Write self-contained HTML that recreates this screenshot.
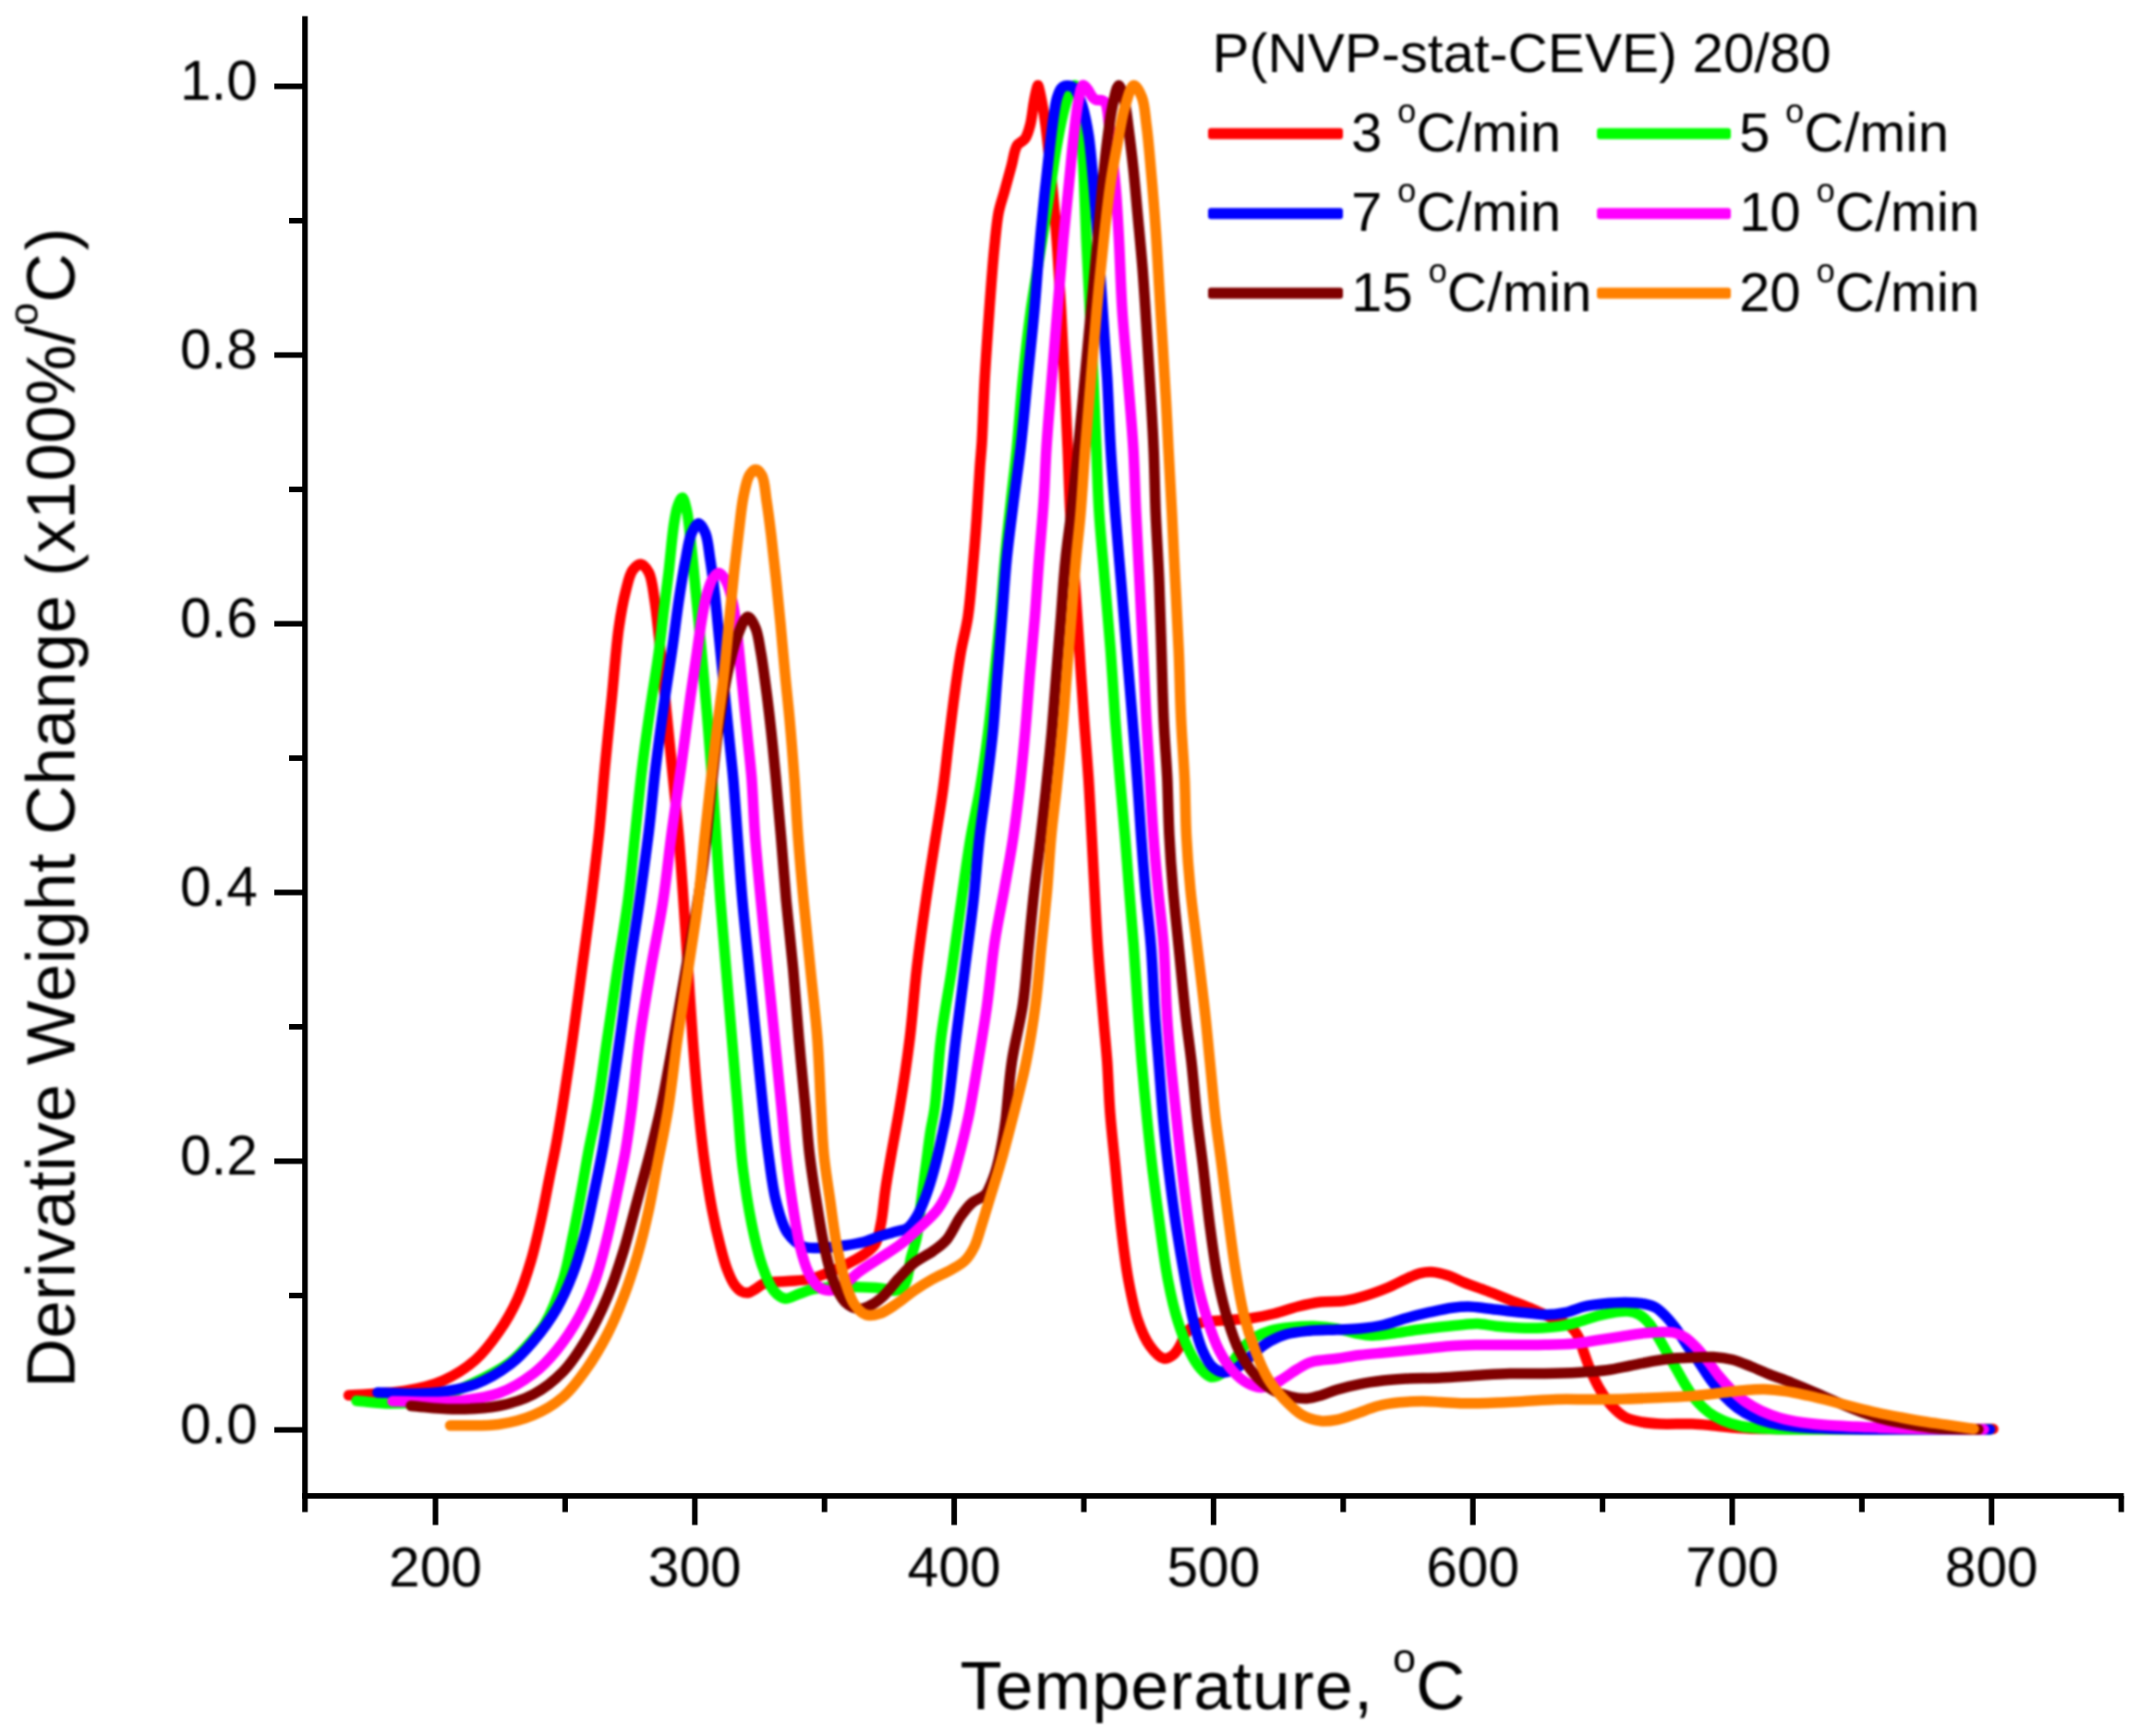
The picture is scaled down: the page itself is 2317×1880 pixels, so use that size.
<!DOCTYPE html>
<html lang="en"><head><meta charset="utf-8"><title>TGA derivative curves</title>
<style>
html,body{margin:0;padding:0;background:#fff;}
body{width:2317px;height:1880px;overflow:hidden;}
svg{display:block;}
text{font-family:"Liberation Sans",sans-serif;fill:#000;}
.tk{font-size:60.5px;}
.ti{font-size:74px;}
.lg{font-size:60px;}
.lgl{fill:none;stroke-width:12;stroke-linecap:butt;}
.ax{stroke:#000;stroke-width:6;fill:none;stroke-linecap:butt;}
.cv{fill:none;stroke-width:11.5;stroke-linecap:round;stroke-linejoin:round;}
</style></head>
<body>
<svg width="2317" height="1880" viewBox="0 0 2317 1880">
<defs><filter id="soft" x="0" y="0" width="2317" height="1880" filterUnits="userSpaceOnUse" color-interpolation-filters="sRGB"><feGaussianBlur stdDeviation="1.1"/></filter><filter id="soft2" x="0" y="0" width="2317" height="1880" filterUnits="userSpaceOnUse" color-interpolation-filters="sRGB"><feGaussianBlur stdDeviation="0.45"/></filter></defs>
<rect x="0" y="0" width="2317" height="1880" fill="#fff"/>
<g id="curves" filter="url(#soft)">
<path class="cv" stroke="#ff0000" d="M377.5 1511.0C398.3 1509.3 421.6 1509.2 440.0 1506.0C455.0 1503.4 467.5 1500.6 480.0 1495.0C492.5 1489.4 504.9 1481.4 515.0 1472.5C524.8 1463.8 532.5 1453.2 540.0 1442.5C547.6 1431.6 554.3 1420.0 560.0 1407.5C566.1 1394.3 570.7 1379.5 575.0 1365.0C579.4 1350.3 582.7 1335.0 586.0 1320.0C589.3 1305.0 592.1 1289.3 595.0 1275.0C597.6 1261.9 600.2 1250.0 602.5 1237.5C604.8 1225.0 606.4 1214.7 608.8 1200.0C612.0 1179.3 616.5 1150.0 620.0 1125.0C623.5 1100.0 626.7 1075.0 630.0 1050.0C633.3 1025.0 636.9 1000.0 640.0 975.0C643.1 950.0 646.2 924.6 648.8 900.0C651.2 876.3 652.8 853.7 655.0 830.0C657.3 805.4 660.0 780.0 662.5 755.0C665.0 730.0 667.0 701.0 670.0 680.0C672.2 664.5 674.6 651.3 677.5 640.0C679.7 631.3 681.4 622.4 685.0 617.5C687.4 614.2 690.9 610.8 693.8 611.0C696.8 611.2 700.2 615.7 702.5 620.0C706.1 626.8 707.0 639.1 708.8 650.0C710.8 662.9 712.1 677.8 713.8 692.5C715.5 708.5 717.0 724.9 718.8 742.5C720.7 762.2 723.0 785.3 725.0 805.0C726.8 822.6 728.3 838.2 730.0 855.0C731.7 872.2 733.4 888.5 735.0 907.0C736.8 928.1 738.4 951.8 740.0 975.0C741.7 999.4 743.3 1025.0 745.0 1050.0C746.7 1075.0 748.1 1100.0 750.0 1125.0C751.9 1150.0 754.0 1176.8 756.2 1200.0C758.2 1220.0 760.0 1237.5 762.5 1256.0C764.9 1274.2 767.8 1293.4 771.0 1310.0C773.7 1324.4 777.0 1338.4 780.0 1350.0C782.3 1359.1 784.3 1366.8 787.0 1374.0C789.4 1380.3 792.0 1386.7 795.0 1391.0C797.3 1394.3 799.8 1397.0 802.5 1398.5C804.8 1399.7 807.6 1400.3 810.0 1400.0C812.6 1399.7 814.9 1397.7 817.5 1396.2C820.6 1394.5 823.2 1391.5 827.5 1390.0C833.8 1387.9 844.2 1388.3 852.5 1387.5C860.8 1386.7 870.0 1386.7 877.5 1385.0C883.9 1383.5 889.0 1381.1 895.0 1378.8C901.5 1376.2 908.4 1373.3 915.0 1370.0C921.8 1366.6 929.3 1362.8 935.0 1358.8C939.9 1355.2 944.4 1352.5 947.5 1347.5C951.1 1341.7 952.0 1333.5 953.8 1325.0C956.0 1314.2 956.9 1300.0 958.8 1287.5C960.6 1275.0 962.7 1263.4 965.0 1250.0C967.7 1234.5 971.0 1218.4 974.0 1200.0C977.7 1177.6 981.9 1150.0 985.0 1125.0C988.1 1100.0 989.6 1075.0 992.5 1050.0C995.4 1025.0 999.0 999.4 1002.5 975.0C1005.8 951.8 1009.7 928.1 1013.0 907.0C1015.9 888.5 1018.6 872.6 1021.0 855.0C1023.5 836.9 1025.3 817.9 1027.5 800.0C1029.6 782.9 1031.5 766.2 1033.8 750.0C1035.9 734.6 1038.0 719.2 1040.5 705.0C1042.8 692.0 1046.0 681.3 1048.0 668.0C1050.3 652.6 1051.5 635.2 1053.0 618.0C1054.6 599.6 1056.2 579.9 1057.5 561.0C1058.8 542.3 1059.9 519.9 1061.0 505.0C1061.7 495.0 1062.3 490.4 1063.0 480.0C1064.1 462.6 1064.9 433.7 1066.2 410.0C1067.6 385.4 1069.5 358.9 1071.2 335.0C1072.8 313.2 1074.4 291.3 1076.2 272.5C1077.8 257.0 1078.9 241.9 1081.2 230.0C1083.0 221.2 1085.3 215.4 1087.5 207.5C1089.9 198.8 1092.6 188.7 1095.0 180.0C1097.2 172.1 1098.0 162.7 1101.2 157.5C1103.6 153.9 1107.7 153.3 1110.0 150.0C1112.7 146.1 1114.0 140.7 1115.5 135.0C1117.4 127.8 1118.2 116.8 1119.5 110.0C1120.4 105.3 1121.2 101.2 1122.0 98.0C1122.6 95.8 1123.2 92.5 1123.8 92.5C1124.3 92.5 1124.9 95.8 1125.5 98.0C1126.3 101.2 1127.1 105.3 1128.0 110.0C1129.3 116.8 1130.7 125.8 1132.0 135.0C1133.5 146.2 1134.8 159.1 1136.2 172.5C1137.9 188.0 1139.8 205.8 1141.2 222.5C1142.7 239.2 1143.8 254.9 1145.0 272.5C1146.3 292.2 1147.6 313.2 1148.8 335.0C1150.1 358.9 1151.3 385.0 1152.5 410.0C1153.7 435.0 1154.9 460.4 1156.0 485.0C1157.0 508.7 1157.5 531.3 1158.8 555.0C1160.1 579.6 1162.1 605.0 1163.8 630.0C1165.4 655.0 1167.1 680.0 1168.8 705.0C1170.4 730.0 1172.0 756.1 1173.8 780.0C1175.3 801.8 1177.1 821.7 1178.5 842.5C1179.9 863.3 1180.9 884.6 1182.0 905.0C1183.1 924.6 1183.9 942.9 1185.0 962.5C1186.1 982.9 1187.0 1003.2 1188.5 1025.0C1190.1 1048.9 1192.6 1077.5 1194.5 1100.0C1196.0 1118.4 1197.5 1132.9 1198.8 1150.0C1200.0 1168.1 1200.5 1187.3 1202.0 1206.0C1203.5 1224.8 1205.6 1243.0 1207.5 1262.5C1209.5 1283.5 1211.3 1306.7 1213.8 1328.0C1216.1 1348.3 1218.6 1369.4 1222.0 1387.5C1224.9 1402.9 1227.7 1417.6 1232.0 1430.0C1235.6 1440.4 1239.7 1450.3 1245.0 1457.5C1249.3 1463.4 1255.2 1470.3 1260.0 1471.2C1263.5 1471.9 1267.2 1469.6 1270.0 1467.5C1273.1 1465.2 1275.2 1461.3 1277.5 1457.5C1280.2 1453.1 1281.4 1446.6 1285.0 1442.5C1288.8 1438.2 1294.2 1434.6 1300.0 1432.5C1306.5 1430.1 1314.3 1430.8 1322.5 1430.0C1332.3 1429.1 1344.9 1428.9 1355.0 1427.5C1363.9 1426.3 1371.7 1424.6 1380.0 1422.5C1388.4 1420.4 1396.6 1417.1 1405.0 1415.0C1413.3 1412.9 1421.6 1411.0 1430.0 1410.0C1438.3 1409.0 1446.9 1409.9 1455.0 1408.8C1462.7 1407.7 1469.9 1405.8 1477.5 1403.5C1485.7 1401.1 1494.7 1397.7 1502.5 1394.5C1509.6 1391.5 1516.3 1387.8 1522.5 1385.0C1527.8 1382.6 1532.6 1380.0 1537.5 1378.8C1541.8 1377.7 1545.5 1377.2 1550.0 1377.5C1555.4 1377.8 1561.8 1379.4 1567.5 1381.2C1573.4 1383.1 1578.6 1386.2 1585.0 1388.8C1592.6 1391.8 1601.7 1394.8 1610.0 1398.0C1618.4 1401.2 1626.7 1404.7 1635.0 1408.0C1643.3 1411.3 1652.2 1414.7 1660.0 1418.0C1667.1 1421.0 1673.3 1424.0 1680.0 1427.0C1686.7 1430.0 1695.0 1432.3 1700.0 1436.2C1704.0 1439.4 1706.3 1443.1 1708.8 1447.5C1711.5 1452.5 1712.8 1459.0 1715.0 1465.0C1717.4 1471.5 1719.6 1478.4 1722.5 1485.0C1725.4 1491.7 1728.7 1498.7 1732.5 1505.0C1736.2 1511.2 1740.3 1517.4 1745.0 1522.5C1749.5 1527.3 1754.5 1532.1 1760.0 1535.0C1765.3 1537.8 1771.4 1538.8 1777.5 1540.0C1783.9 1541.2 1789.9 1541.6 1797.5 1542.0C1807.4 1542.5 1821.4 1541.6 1832.0 1542.0C1841.0 1542.4 1848.7 1543.3 1857.0 1544.0C1865.3 1544.8 1873.4 1545.9 1882.0 1546.5C1891.1 1547.1 1896.0 1547.3 1910.0 1547.5C1951.6 1548.2 2075.3 1547.5 2158.0 1547.5"/>
<path class="cv" stroke="#00ff00" d="M386.0 1517.0C398.2 1518.0 409.9 1520.0 422.5 1520.0C436.1 1520.0 450.5 1519.9 465.0 1516.5C481.3 1512.7 499.8 1503.9 515.0 1496.5C528.6 1489.9 541.7 1483.3 552.5 1475.0C562.3 1467.4 570.8 1457.2 577.5 1449.5C582.6 1443.7 585.8 1440.6 590.0 1433.5C596.7 1422.0 604.9 1401.1 610.0 1385.0C614.7 1369.9 616.8 1355.6 620.0 1340.0C623.5 1323.2 627.0 1304.1 630.0 1287.5C632.7 1272.6 634.8 1259.4 637.5 1245.0C640.3 1230.2 643.6 1216.9 646.5 1200.0C650.3 1178.2 653.8 1150.0 657.5 1125.0C661.2 1100.0 664.8 1075.0 668.5 1050.0C672.3 1025.0 676.7 1000.0 680.0 975.0C683.2 950.0 685.4 924.6 688.0 900.0C690.5 876.3 692.7 852.7 695.5 830.0C698.1 808.6 701.0 788.2 704.0 767.5C706.9 747.2 710.8 725.4 713.2 707.0C715.3 691.7 716.8 677.2 718.2 665.0C719.4 655.6 720.4 648.3 721.4 640.0C722.4 631.7 723.6 623.3 724.5 615.0C725.4 606.7 726.1 598.3 727.0 590.0C727.9 581.7 728.8 572.5 730.1 565.0C731.2 558.8 732.0 552.7 733.8 548.0C735.1 544.4 737.2 538.9 738.8 539.0C740.5 539.1 742.1 546.7 743.5 552.5C745.8 562.2 746.9 578.4 748.5 592.5C750.3 608.2 751.8 624.9 753.5 642.5C755.4 662.2 757.6 684.2 759.5 705.0C761.4 725.8 763.2 746.7 765.0 767.5C766.7 788.3 768.4 808.6 770.0 830.0C771.7 852.7 773.4 876.3 775.0 900.0C776.7 924.6 778.1 950.0 780.0 975.0C781.9 1000.0 784.2 1025.0 786.2 1050.0C788.3 1075.0 790.4 1100.0 792.5 1125.0C794.6 1150.0 796.8 1176.1 798.8 1200.0C800.6 1221.8 801.5 1241.7 804.0 1262.5C806.5 1283.4 809.9 1306.0 813.8 1325.0C817.1 1341.3 820.5 1357.0 825.0 1370.0C828.7 1380.5 832.3 1391.3 837.5 1397.5C841.2 1401.9 845.5 1405.6 850.0 1406.2C854.6 1406.9 860.0 1402.9 865.0 1401.2C870.0 1399.6 874.4 1397.5 880.0 1396.2C886.7 1394.8 894.8 1394.2 902.5 1393.8C910.6 1393.3 919.2 1393.5 927.5 1393.8C935.8 1394.0 944.9 1394.3 952.5 1395.0C958.9 1395.6 965.2 1398.7 970.0 1397.5C974.1 1396.5 977.4 1393.9 980.0 1390.0C983.8 1384.1 984.1 1371.2 986.2 1362.5C988.2 1354.6 990.8 1348.6 992.5 1340.0C994.8 1328.6 995.8 1313.1 997.5 1300.0C999.1 1287.3 1000.8 1275.0 1002.5 1262.5C1004.2 1250.0 1005.7 1236.2 1007.5 1225.0C1008.9 1215.8 1010.6 1210.6 1012.0 1200.0C1014.5 1181.7 1015.7 1149.9 1018.8 1125.0C1021.8 1099.9 1026.8 1075.0 1030.5 1050.0C1034.2 1025.0 1037.5 999.4 1041.0 975.0C1044.3 951.8 1047.4 928.1 1051.0 907.0C1054.1 888.5 1057.9 873.2 1061.0 855.0C1064.3 835.2 1067.4 813.4 1070.0 792.5C1072.6 771.7 1074.6 750.8 1076.8 730.0C1078.9 709.2 1081.1 688.3 1083.0 667.5C1084.9 646.7 1086.1 625.8 1088.0 605.0C1089.9 584.2 1092.3 562.9 1094.5 542.5C1096.6 522.9 1099.0 505.5 1101.0 485.0C1103.3 461.7 1105.0 435.0 1107.5 410.0C1110.0 385.0 1113.0 358.8 1116.2 335.0C1119.3 313.2 1122.9 293.3 1126.2 272.5C1129.6 251.7 1133.2 229.7 1136.2 210.0C1139.0 192.4 1141.0 175.4 1143.8 160.0C1146.1 146.6 1148.6 133.0 1151.2 122.5C1153.2 114.7 1155.0 107.9 1157.5 102.5C1159.4 98.5 1162.0 92.3 1163.8 92.5C1165.9 92.8 1167.5 103.0 1168.8 110.0C1170.5 120.1 1170.5 134.1 1171.2 147.5C1172.2 163.0 1173.0 179.9 1173.8 197.5C1174.6 217.2 1175.3 238.2 1176.2 260.0C1177.3 283.9 1178.8 310.0 1180.0 335.0C1181.2 360.0 1182.6 385.0 1183.8 410.0C1184.9 435.0 1185.9 460.4 1187.0 485.0C1188.0 508.7 1188.5 531.3 1190.0 555.0C1191.6 579.6 1194.2 605.0 1196.2 630.0C1198.3 655.0 1200.6 680.0 1202.5 705.0C1204.4 730.0 1205.8 756.1 1207.5 780.0C1209.1 801.8 1210.8 821.7 1212.5 842.5C1214.3 863.3 1216.3 884.6 1218.0 905.0C1219.6 924.6 1221.0 942.9 1222.5 962.5C1224.1 982.9 1225.9 1003.2 1227.5 1025.0C1229.2 1048.9 1230.9 1077.5 1232.5 1100.0C1233.8 1118.4 1234.8 1132.4 1236.2 1150.0C1237.9 1169.7 1240.0 1192.8 1242.0 1212.5C1243.8 1230.1 1245.3 1244.7 1247.4 1262.5C1249.8 1282.9 1252.9 1306.7 1255.9 1328.0C1258.7 1348.3 1261.3 1369.4 1264.8 1387.5C1267.8 1402.9 1270.9 1416.9 1275.0 1430.0C1278.6 1441.7 1282.8 1453.2 1287.5 1462.5C1291.3 1470.2 1295.5 1477.5 1300.0 1482.5C1303.5 1486.4 1307.3 1490.6 1311.2 1491.2C1314.8 1491.9 1319.1 1489.6 1322.5 1487.5C1326.2 1485.2 1329.5 1480.9 1332.5 1477.5C1335.3 1474.3 1337.3 1471.0 1340.0 1467.5C1343.1 1463.5 1346.4 1458.5 1350.0 1455.0C1353.2 1451.9 1356.2 1449.7 1360.0 1447.5C1364.4 1445.0 1369.4 1442.9 1375.0 1441.2C1381.6 1439.3 1389.8 1438.3 1397.5 1437.5C1405.6 1436.6 1414.2 1436.0 1422.5 1436.2C1430.8 1436.5 1439.7 1437.4 1447.5 1438.8C1454.6 1440.0 1461.0 1442.5 1467.5 1443.8C1473.5 1444.9 1478.6 1446.1 1485.0 1446.2C1492.6 1446.4 1501.7 1444.8 1510.0 1443.8C1518.3 1442.7 1526.7 1441.1 1535.0 1440.0C1543.3 1438.9 1551.7 1437.9 1560.0 1437.0C1568.3 1436.1 1577.7 1435.1 1585.0 1434.5C1590.6 1434.0 1594.7 1433.3 1600.0 1433.5C1606.2 1433.7 1612.9 1435.5 1620.0 1436.2C1627.9 1437.1 1636.7 1437.7 1645.0 1438.0C1653.3 1438.3 1662.1 1438.3 1670.0 1438.0C1677.0 1437.7 1683.4 1437.4 1690.0 1436.2C1696.7 1435.1 1703.4 1433.1 1710.0 1431.2C1716.7 1429.4 1723.5 1426.7 1730.0 1425.0C1736.0 1423.4 1741.9 1422.1 1747.5 1421.2C1752.7 1420.5 1757.8 1419.5 1762.5 1420.0C1766.9 1420.5 1771.3 1421.7 1775.0 1423.8C1778.8 1425.8 1781.9 1428.9 1785.0 1432.5C1788.6 1436.6 1791.8 1442.2 1795.0 1447.5C1798.4 1453.1 1801.7 1459.2 1805.0 1465.0C1808.3 1470.8 1811.7 1476.7 1815.0 1482.5C1818.3 1488.3 1821.5 1494.4 1825.0 1500.0C1828.5 1505.5 1831.8 1511.1 1836.0 1516.0C1840.2 1520.9 1844.9 1525.7 1850.0 1529.5C1854.9 1533.2 1860.3 1536.0 1866.0 1538.5C1871.9 1541.1 1878.2 1543.1 1885.0 1544.5C1892.7 1546.1 1901.3 1546.4 1910.0 1547.0C1919.5 1547.6 1925.4 1547.8 1940.0 1548.0C1978.9 1548.6 2083.0 1548.0 2154.5 1548.0"/>
<path class="cv" stroke="#0000ff" d="M408.8 1508.0C427.5 1508.2 446.9 1510.4 465.0 1508.8C482.2 1507.2 499.9 1504.4 515.0 1498.8C528.9 1493.6 541.7 1485.7 552.5 1477.5C562.3 1470.1 569.5 1461.9 577.5 1452.5C586.3 1442.1 595.4 1429.7 602.5 1417.5C609.5 1405.5 615.0 1392.9 620.0 1380.0C625.0 1367.0 628.8 1353.8 632.5 1340.0C636.4 1325.5 639.2 1310.4 642.5 1295.0C645.9 1278.8 649.5 1261.3 652.5 1245.0C655.3 1229.6 657.3 1216.9 660.0 1200.0C663.5 1178.2 667.7 1150.0 671.2 1125.0C674.8 1100.0 677.7 1075.0 681.2 1050.0C684.8 1025.0 689.0 1000.0 692.5 975.0C696.0 950.0 699.5 924.6 702.5 900.0C705.4 876.3 707.1 853.7 710.0 830.0C713.0 805.4 716.8 777.5 720.0 755.0C722.6 736.6 725.1 722.1 727.5 705.0C730.1 687.1 732.4 667.4 735.0 650.0C737.4 634.2 739.9 618.1 742.5 605.0C744.5 594.7 745.7 584.3 748.8 577.5C750.8 572.8 753.8 566.8 756.2 566.8C758.8 566.8 761.8 572.8 763.8 577.5C766.6 584.3 767.2 595.1 768.8 605.0C770.6 616.5 772.2 629.1 773.8 642.5C775.6 658.0 777.1 675.8 778.8 692.5C780.4 709.2 782.1 725.8 783.8 742.5C785.4 759.2 787.1 775.8 788.8 792.5C790.4 809.2 792.2 824.9 793.8 842.5C795.5 862.2 796.9 883.6 798.5 905.0C800.2 927.7 801.7 951.3 803.8 975.0C805.9 999.6 808.8 1025.0 811.2 1050.0C813.8 1075.0 816.2 1100.0 818.8 1125.0C821.2 1150.0 823.8 1177.5 826.2 1200.0C828.2 1218.4 829.7 1233.4 832.0 1250.0C834.3 1266.7 836.2 1285.0 840.0 1300.0C843.3 1312.9 846.5 1326.3 852.5 1335.0C857.2 1341.8 863.5 1347.4 870.0 1350.0C876.1 1352.5 883.0 1351.4 890.0 1351.2C897.9 1351.1 907.2 1349.9 915.0 1348.8C922.1 1347.7 928.6 1346.7 935.0 1345.0C941.1 1343.4 946.6 1340.6 952.5 1338.8C958.3 1336.9 964.7 1335.3 970.0 1333.8C974.5 1332.4 978.9 1332.4 982.5 1330.0C986.5 1327.3 989.5 1322.5 992.5 1317.5C996.3 1311.3 999.4 1303.3 1002.5 1295.0C1006.1 1285.3 1009.6 1273.4 1012.5 1262.5C1015.4 1251.7 1017.7 1240.6 1020.0 1230.0C1022.2 1219.8 1024.0 1212.3 1026.0 1200.0C1029.1 1180.7 1031.9 1150.0 1035.0 1125.0C1038.1 1100.0 1041.3 1075.0 1044.5 1050.0C1047.7 1025.0 1051.3 999.4 1054.0 975.0C1056.6 951.8 1058.1 928.1 1060.5 907.0C1062.6 888.5 1065.2 873.1 1067.5 855.0C1070.0 835.1 1072.9 813.4 1075.0 792.5C1077.1 771.7 1078.3 750.8 1080.0 730.0C1081.7 709.2 1083.3 688.3 1085.0 667.5C1086.7 646.7 1087.9 625.8 1090.0 605.0C1092.1 584.1 1094.9 562.9 1097.5 542.5C1100.0 522.9 1102.6 505.5 1105.0 485.0C1107.7 461.7 1110.0 435.0 1112.5 410.0C1115.0 385.0 1117.9 358.9 1120.0 335.0C1122.0 313.2 1123.2 293.3 1125.0 272.5C1126.8 251.7 1129.0 229.7 1131.0 210.0C1132.8 192.4 1134.7 175.2 1136.5 160.0C1138.0 147.3 1139.5 134.9 1141.0 125.0C1142.1 117.7 1142.9 111.3 1144.5 106.0C1145.7 102.1 1147.0 98.2 1148.8 96.0C1150.0 94.5 1151.4 93.5 1153.0 93.0C1154.5 92.5 1156.4 92.7 1158.0 93.0C1159.6 93.3 1161.2 93.8 1162.5 95.0C1164.3 96.5 1165.6 99.2 1167.0 102.0C1168.8 105.6 1170.4 109.6 1172.0 115.0C1174.4 123.3 1176.9 135.5 1178.8 147.5C1181.0 162.3 1182.2 179.9 1183.8 197.5C1185.5 217.2 1187.2 238.2 1188.8 260.0C1190.5 283.9 1192.1 310.0 1193.8 335.0C1195.4 360.0 1197.3 385.0 1198.8 410.0C1200.2 435.0 1201.0 460.4 1202.5 485.0C1203.9 508.7 1205.7 531.3 1207.5 555.0C1209.4 579.6 1211.7 605.0 1213.8 630.0C1215.8 655.0 1217.9 680.0 1220.0 705.0C1222.1 730.0 1224.3 756.1 1226.2 780.0C1228.0 801.8 1229.7 821.7 1231.2 842.5C1232.8 863.3 1234.0 884.6 1235.5 905.0C1236.9 924.6 1238.3 942.9 1240.0 962.5C1241.8 982.9 1244.5 1003.2 1246.2 1025.0C1248.1 1048.8 1249.0 1077.5 1250.5 1100.0C1251.8 1118.4 1253.1 1132.4 1254.5 1150.0C1256.1 1169.7 1257.7 1192.8 1259.5 1212.5C1261.1 1230.1 1262.7 1244.7 1264.8 1262.5C1267.2 1282.9 1270.3 1306.7 1273.5 1328.0C1276.6 1348.3 1280.2 1369.4 1283.5 1387.5C1286.3 1402.9 1288.7 1416.9 1292.0 1430.0C1294.9 1441.6 1298.0 1453.5 1302.0 1462.5C1305.1 1469.5 1308.2 1476.0 1312.5 1480.0C1316.1 1483.3 1320.8 1485.9 1325.0 1486.2C1329.1 1486.6 1333.5 1484.6 1337.5 1482.5C1341.9 1480.2 1345.9 1476.0 1350.0 1472.5C1354.2 1468.9 1358.2 1464.6 1362.5 1461.2C1366.6 1458.0 1370.3 1455.1 1375.0 1452.5C1380.2 1449.6 1386.0 1446.8 1392.5 1445.0C1400.0 1442.9 1408.8 1442.1 1417.5 1441.2C1427.0 1440.3 1438.0 1440.4 1447.5 1440.0C1456.2 1439.6 1464.2 1439.6 1472.5 1438.8C1480.9 1437.9 1489.2 1436.9 1497.5 1435.0C1505.9 1433.1 1514.1 1429.8 1522.5 1427.5C1530.8 1425.2 1539.1 1423.1 1547.5 1421.2C1555.8 1419.4 1564.9 1417.3 1572.5 1416.2C1578.8 1415.4 1584.0 1414.9 1590.0 1415.0C1596.4 1415.1 1603.0 1416.2 1610.0 1417.0C1617.9 1417.9 1626.7 1419.1 1635.0 1420.0C1643.3 1420.9 1653.1 1421.8 1660.0 1422.5C1664.9 1423.0 1667.7 1423.8 1672.5 1423.8C1678.9 1423.8 1687.8 1423.0 1695.0 1421.5C1701.9 1420.0 1708.3 1416.6 1715.0 1415.0C1721.6 1413.4 1727.9 1412.7 1735.0 1412.0C1742.9 1411.2 1752.1 1410.4 1760.0 1410.5C1767.0 1410.6 1774.2 1410.9 1780.0 1412.0C1784.7 1412.9 1788.7 1413.9 1792.5 1416.0C1796.4 1418.2 1799.6 1421.6 1803.0 1425.0C1806.8 1428.8 1810.3 1433.1 1814.0 1438.0C1818.3 1443.7 1822.6 1451.1 1827.0 1457.5C1831.3 1463.8 1835.8 1469.8 1840.0 1476.0C1844.1 1482.0 1847.7 1488.2 1852.0 1494.0C1856.3 1499.9 1861.0 1505.8 1866.0 1511.0C1870.7 1516.0 1875.7 1520.6 1881.0 1524.5C1886.1 1528.2 1891.2 1531.3 1897.0 1534.0C1903.2 1536.9 1909.9 1539.2 1917.0 1541.0C1924.8 1543.0 1932.9 1544.0 1942.0 1545.0C1952.7 1546.2 1964.0 1546.5 1977.0 1547.0C1993.3 1547.6 2010.0 1547.8 2032.0 1548.0C2064.8 1548.3 2113.7 1548.0 2154.5 1548.0"/>
<path class="cv" stroke="#ff00ff" d="M425.0 1517.5C446.7 1517.5 469.8 1519.3 490.0 1517.5C507.8 1516.0 524.9 1514.1 540.0 1508.8C553.9 1503.8 566.7 1495.7 577.5 1487.5C587.3 1480.1 594.6 1472.1 602.5 1462.5C611.4 1451.6 620.4 1438.0 627.5 1425.0C634.5 1412.2 640.1 1398.9 645.0 1385.0C650.1 1370.6 653.7 1355.0 657.5 1340.0C661.2 1325.0 664.2 1310.4 667.5 1295.0C670.9 1278.8 674.7 1261.3 677.5 1245.0C680.1 1229.6 681.8 1216.9 684.0 1200.0C686.8 1178.2 689.1 1150.0 692.5 1125.0C695.9 1100.0 700.3 1075.0 704.5 1050.0C708.8 1025.0 714.2 1000.1 718.0 975.0C721.8 950.0 724.2 924.6 727.5 900.0C730.7 876.3 734.2 853.7 737.5 830.0C740.9 805.4 744.4 777.2 747.5 755.0C750.0 737.2 752.2 722.5 754.5 707.0C756.6 692.5 758.5 677.2 760.8 665.0C762.5 655.6 764.2 647.1 766.4 640.0C768.1 634.6 769.6 629.4 772.0 626.0C773.8 623.4 776.3 620.3 778.5 620.5C781.1 620.7 784.2 625.8 786.5 630.0C789.8 636.1 791.8 645.7 793.8 655.0C796.1 666.2 797.2 679.1 798.8 692.5C800.6 708.0 802.1 725.8 803.8 742.5C805.4 759.2 807.1 775.8 808.8 792.5C810.4 809.2 812.3 824.9 813.8 842.5C815.3 862.2 815.9 883.6 817.5 905.0C819.2 927.7 821.5 951.3 823.8 975.0C826.1 999.6 828.8 1025.0 831.2 1050.0C833.8 1075.0 836.2 1100.0 838.8 1125.0C841.2 1150.0 844.1 1177.5 846.2 1200.0C848.0 1218.3 849.1 1233.3 851.0 1250.0C852.9 1266.7 855.0 1283.4 857.5 1300.0C860.0 1316.7 862.8 1335.9 866.2 1350.0C868.9 1360.6 871.4 1369.9 875.0 1377.5C877.9 1383.5 880.9 1389.1 885.0 1392.5C888.6 1395.4 893.1 1397.4 897.5 1397.5C902.2 1397.6 907.6 1395.3 912.5 1392.5C918.4 1389.1 923.6 1382.3 930.0 1377.5C936.9 1372.3 945.0 1367.5 952.5 1362.5C960.0 1357.5 967.9 1352.9 975.0 1347.5C982.0 1342.1 988.4 1336.1 995.0 1330.0C1001.8 1323.7 1009.5 1317.3 1015.0 1310.0C1020.2 1303.1 1023.9 1295.9 1027.5 1287.5C1031.6 1277.9 1034.5 1265.7 1037.5 1255.0C1040.3 1244.8 1042.9 1234.0 1045.0 1225.0C1046.7 1217.7 1047.8 1213.3 1049.5 1205.0C1052.2 1191.2 1055.9 1168.7 1059.0 1150.0C1062.2 1130.4 1065.6 1110.8 1068.5 1090.0C1071.6 1067.6 1073.6 1042.1 1077.0 1020.0C1080.1 999.8 1084.1 981.5 1087.5 962.5C1090.8 943.8 1094.3 925.2 1097.0 907.0C1099.6 889.4 1101.7 873.1 1103.8 855.0C1106.0 835.1 1108.1 813.3 1110.0 792.5C1111.9 771.7 1113.3 750.8 1115.0 730.0C1116.8 709.2 1118.8 688.3 1120.5 667.5C1122.2 646.7 1123.4 625.8 1125.0 605.0C1126.6 584.2 1128.7 562.9 1130.0 542.5C1131.3 522.9 1131.7 505.4 1133.0 485.0C1134.5 461.6 1136.8 435.0 1138.8 410.0C1140.8 385.0 1142.9 360.0 1145.0 335.0C1147.1 310.0 1149.1 283.9 1151.2 260.0C1153.2 238.2 1155.5 217.2 1157.5 197.5C1159.3 179.9 1160.7 163.0 1162.5 147.5C1164.1 134.1 1165.4 120.1 1167.5 110.0C1169.0 102.9 1170.2 93.0 1172.5 92.3C1173.8 91.9 1175.7 94.5 1177.0 96.0C1178.4 97.6 1179.4 99.8 1180.5 101.5C1181.5 103.1 1182.4 104.9 1183.5 106.0C1184.4 106.9 1185.4 107.6 1186.5 108.0C1187.6 108.4 1188.8 108.3 1190.0 108.5C1191.3 108.7 1192.8 108.5 1194.0 109.0C1195.2 109.5 1196.2 110.3 1197.0 111.5C1198.0 113.1 1198.2 115.6 1198.7 118.0C1199.3 121.0 1199.6 124.4 1200.0 128.0C1200.5 132.3 1201.0 137.0 1201.5 142.0C1202.1 147.6 1202.7 152.5 1203.5 160.0C1204.8 172.5 1207.2 193.3 1208.5 210.0C1209.8 226.7 1210.5 241.6 1211.5 260.0C1212.7 282.5 1213.4 310.0 1215.0 335.0C1216.6 360.0 1219.2 385.0 1221.2 410.0C1223.2 435.0 1225.5 460.4 1227.0 485.0C1228.4 508.7 1228.9 531.3 1230.0 555.0C1231.1 579.6 1232.5 605.0 1233.8 630.0C1235.0 655.0 1236.2 680.0 1237.5 705.0C1238.8 730.0 1239.9 756.1 1241.2 780.0C1242.4 801.8 1243.8 821.7 1245.0 842.5C1246.2 863.3 1247.3 884.6 1248.8 905.0C1250.2 924.6 1251.9 942.9 1253.8 962.5C1255.7 982.9 1258.4 1003.2 1260.0 1025.0C1261.7 1048.8 1262.1 1077.5 1263.5 1100.0C1264.7 1118.4 1265.9 1132.4 1267.5 1150.0C1269.3 1169.7 1271.9 1192.8 1274.0 1212.5C1275.8 1230.1 1277.3 1244.7 1279.3 1262.5C1281.6 1282.9 1284.5 1306.7 1287.4 1328.0C1290.2 1348.3 1292.5 1369.4 1296.2 1387.5C1299.4 1403.0 1303.3 1416.9 1307.5 1430.0C1311.3 1441.7 1315.0 1452.9 1320.0 1462.5C1324.4 1471.0 1329.5 1478.9 1335.0 1485.0C1339.7 1490.2 1344.7 1494.6 1350.0 1497.5C1354.8 1500.2 1360.2 1502.2 1365.0 1502.5C1369.3 1502.8 1373.5 1501.6 1377.5 1500.0C1381.8 1498.3 1385.7 1495.2 1390.0 1492.5C1394.8 1489.5 1399.9 1485.5 1405.0 1482.5C1409.9 1479.6 1414.1 1476.8 1420.0 1475.0C1427.6 1472.6 1438.6 1472.5 1447.5 1471.2C1456.0 1470.0 1464.2 1468.5 1472.5 1467.5C1480.8 1466.5 1489.2 1465.8 1497.5 1465.0C1505.8 1464.2 1514.2 1463.3 1522.5 1462.5C1530.8 1461.7 1539.2 1460.8 1547.5 1460.0C1555.8 1459.2 1564.2 1458.1 1572.5 1457.5C1580.8 1456.9 1588.3 1456.7 1597.5 1456.5C1608.7 1456.3 1622.5 1456.5 1635.0 1456.5C1647.5 1456.5 1660.4 1456.5 1672.5 1456.2C1683.7 1456.0 1694.9 1455.9 1705.0 1455.0C1713.9 1454.2 1721.7 1452.5 1730.0 1451.2C1738.3 1450.0 1746.7 1448.8 1755.0 1447.5C1763.3 1446.2 1772.1 1444.6 1780.0 1443.8C1787.0 1443.0 1794.2 1442.6 1800.0 1442.5C1804.5 1442.5 1808.1 1442.1 1812.0 1443.0C1816.1 1443.9 1820.2 1445.6 1824.0 1448.0C1828.2 1450.6 1832.1 1454.5 1836.0 1458.5C1840.4 1463.0 1844.8 1468.7 1849.0 1474.0C1853.2 1479.2 1856.8 1484.9 1861.0 1490.0C1865.1 1495.0 1869.4 1499.9 1874.0 1504.5C1878.7 1509.1 1883.6 1513.6 1889.0 1517.5C1894.6 1521.5 1900.7 1525.0 1907.0 1528.0C1913.4 1531.0 1919.9 1533.5 1927.0 1535.5C1934.6 1537.7 1942.6 1539.2 1951.0 1540.5C1960.2 1541.9 1970.2 1542.8 1980.0 1543.5C1989.9 1544.3 1998.9 1544.5 2010.0 1545.0C2023.9 1545.6 2038.8 1546.5 2057.0 1547.0C2082.4 1547.7 2117.7 1547.7 2148.0 1548.0"/>
<path class="cv" stroke="#800000" d="M445.0 1522.5C460.0 1523.7 474.6 1525.9 490.0 1526.0C506.2 1526.1 524.7 1525.5 540.0 1522.5C553.6 1519.8 565.9 1516.2 577.5 1510.0C589.3 1503.7 600.5 1494.8 610.0 1485.0C619.7 1474.9 627.3 1462.7 635.0 1450.0C643.3 1436.2 650.9 1420.6 657.5 1405.0C664.3 1389.0 669.7 1372.2 675.0 1355.0C680.5 1337.2 685.1 1317.9 690.0 1300.0C694.6 1282.9 699.2 1266.7 703.5 1250.0C707.7 1233.4 711.6 1218.4 715.5 1200.0C720.3 1177.6 725.0 1150.0 729.5 1125.0C734.0 1100.0 738.3 1074.1 742.5 1050.0C746.4 1027.6 750.7 1005.3 754.0 985.0C756.9 967.3 759.4 950.8 761.5 935.0C763.3 920.9 764.6 908.3 766.0 895.0C767.4 881.7 768.3 870.4 770.0 855.0C772.3 833.9 775.7 802.4 779.0 780.0C781.7 761.6 784.1 745.7 787.5 730.0C790.6 715.9 793.7 701.2 798.0 690.0C801.3 681.4 805.8 668.3 809.5 668.0C812.4 667.8 815.8 675.0 818.0 680.0C820.9 686.6 821.8 695.8 823.5 705.0C825.6 716.2 827.2 729.1 829.0 742.5C831.1 758.0 833.2 775.8 835.0 792.5C836.8 809.2 838.3 824.9 840.0 842.5C841.8 862.2 843.7 883.6 845.5 905.0C847.4 927.7 849.1 951.3 851.2 975.0C853.5 999.6 856.5 1025.0 858.8 1050.0C861.0 1075.0 862.8 1100.0 865.0 1125.0C867.2 1150.0 869.9 1177.5 872.0 1200.0C873.7 1218.3 874.5 1233.4 876.5 1250.0C878.5 1266.7 881.1 1283.4 883.8 1300.0C886.4 1316.7 889.1 1334.6 892.5 1350.0C895.5 1363.5 898.2 1376.8 902.5 1387.5C906.0 1396.2 909.7 1404.9 915.0 1410.0C919.3 1414.1 925.4 1417.0 930.0 1417.5C933.6 1417.9 936.5 1416.6 940.0 1415.0C944.7 1412.9 950.1 1409.3 955.0 1405.0C961.0 1399.8 966.6 1391.4 972.5 1385.0C978.2 1378.9 983.7 1372.5 990.0 1367.5C996.2 1362.6 1003.9 1359.4 1010.0 1355.0C1015.5 1351.0 1020.4 1347.9 1025.0 1342.5C1030.6 1335.9 1034.9 1324.6 1040.0 1317.5C1044.1 1311.7 1048.3 1306.0 1052.5 1302.5C1055.6 1299.8 1059.3 1298.8 1062.0 1297.0C1064.1 1295.6 1065.9 1294.9 1067.5 1293.0C1069.7 1290.4 1071.3 1285.8 1073.0 1282.0C1074.7 1278.1 1076.1 1274.3 1077.5 1270.0C1079.0 1265.3 1080.2 1260.6 1081.5 1255.0C1083.1 1248.2 1084.7 1239.4 1086.0 1232.0C1087.2 1225.1 1087.9 1220.5 1089.0 1212.0C1090.9 1197.0 1092.4 1170.6 1095.5 1150.0C1098.6 1129.1 1104.5 1108.4 1107.5 1087.5C1110.5 1066.7 1111.7 1045.8 1113.8 1025.0C1115.8 1004.2 1117.7 982.9 1120.0 962.5C1122.2 942.9 1124.9 923.5 1127.0 905.0C1129.0 887.8 1130.7 872.6 1132.5 855.0C1134.6 835.3 1136.9 813.3 1138.8 792.5C1140.6 771.7 1142.1 750.8 1143.8 730.0C1145.4 709.2 1147.1 688.3 1148.8 667.5C1150.4 646.7 1151.7 624.7 1153.8 605.0C1155.6 587.4 1157.9 573.1 1160.0 555.0C1162.5 533.6 1165.1 508.7 1167.5 485.0C1170.0 460.4 1172.2 435.0 1174.5 410.0C1176.8 385.0 1179.2 360.0 1181.5 335.0C1183.8 310.0 1186.3 283.9 1188.5 260.0C1190.5 238.2 1192.1 217.2 1194.0 197.5C1195.7 179.9 1197.5 162.4 1199.5 147.5C1201.1 135.5 1202.3 124.8 1204.5 115.0C1206.4 106.7 1209.0 92.6 1211.2 92.5C1213.3 92.4 1215.8 103.3 1217.5 110.0C1219.7 118.6 1220.5 129.1 1222.0 140.0C1223.7 152.8 1225.4 167.2 1227.0 182.0C1228.8 198.6 1230.3 217.2 1232.0 235.0C1233.7 253.2 1235.4 270.2 1237.0 290.0C1238.8 313.1 1240.5 340.9 1242.0 365.0C1243.4 387.4 1244.8 409.2 1246.0 430.0C1247.1 449.1 1248.2 465.6 1249.0 485.0C1250.0 506.9 1250.3 531.3 1251.2 555.0C1252.3 579.6 1254.0 605.0 1255.0 630.0C1256.0 655.0 1256.7 680.0 1257.5 705.0C1258.3 730.0 1258.9 756.1 1260.0 780.0C1261.0 801.8 1262.7 821.7 1263.8 842.5C1264.7 863.3 1264.9 884.6 1266.0 905.0C1267.0 924.6 1268.3 942.9 1270.0 962.5C1271.7 982.9 1274.1 1003.2 1276.2 1025.0C1278.6 1048.9 1281.2 1077.5 1283.8 1100.0C1285.8 1118.4 1288.0 1132.4 1290.0 1150.0C1292.2 1169.7 1294.0 1192.8 1296.2 1212.5C1298.2 1230.1 1300.4 1244.7 1302.5 1262.5C1304.9 1282.9 1307.2 1306.7 1310.0 1328.0C1312.7 1348.3 1315.4 1369.4 1319.0 1387.5C1322.1 1402.9 1325.5 1416.9 1329.5 1430.0C1333.1 1441.7 1336.6 1452.6 1341.5 1462.5C1346.0 1471.6 1351.3 1480.3 1357.5 1487.5C1363.4 1494.3 1370.4 1500.8 1377.5 1505.0C1383.8 1508.8 1391.0 1510.9 1397.5 1512.5C1403.4 1513.9 1409.4 1514.8 1415.0 1514.5C1420.2 1514.2 1424.9 1512.7 1430.0 1511.2C1435.7 1509.6 1441.1 1506.9 1447.5 1505.0C1455.0 1502.7 1464.1 1500.4 1472.5 1498.8C1480.8 1497.1 1489.2 1496.0 1497.5 1495.0C1505.8 1494.0 1513.3 1493.5 1522.5 1493.0C1533.7 1492.4 1547.5 1492.6 1560.0 1492.0C1572.5 1491.4 1585.0 1490.3 1597.5 1489.5C1610.0 1488.8 1622.5 1487.8 1635.0 1487.5C1647.5 1487.2 1660.0 1487.7 1672.5 1487.5C1685.0 1487.3 1698.2 1486.9 1710.0 1486.2C1720.6 1485.6 1730.5 1485.0 1740.0 1483.8C1748.7 1482.6 1756.7 1480.6 1765.0 1479.0C1773.3 1477.4 1781.9 1475.4 1790.0 1474.0C1797.5 1472.7 1804.6 1471.7 1812.0 1471.0C1819.6 1470.3 1827.6 1470.3 1835.0 1470.0C1841.9 1469.8 1848.3 1469.1 1855.0 1469.5C1861.9 1469.9 1869.2 1470.8 1876.0 1472.5C1882.8 1474.3 1889.3 1477.3 1896.0 1480.0C1902.9 1482.7 1909.8 1485.9 1917.0 1488.8C1924.5 1491.7 1932.2 1494.4 1940.0 1497.5C1948.2 1500.8 1956.7 1504.4 1965.0 1508.0C1973.3 1511.6 1981.6 1515.5 1990.0 1519.0C1998.3 1522.5 2006.6 1526.0 2015.0 1529.0C2023.3 1532.0 2031.6 1534.8 2040.0 1537.0C2048.3 1539.1 2056.3 1540.5 2065.0 1542.0C2074.5 1543.7 2083.8 1545.5 2095.0 1546.5C2108.9 1547.8 2126.3 1547.5 2142.0 1548.0"/>
<path class="cv" stroke="#ff8000" d="M487.5 1543.8C505.0 1543.3 524.1 1544.8 540.0 1542.5C553.7 1540.5 565.8 1537.5 577.5 1532.5C589.1 1527.5 600.5 1520.8 610.0 1512.5C619.7 1504.1 627.3 1493.4 635.0 1482.5C643.2 1471.0 650.8 1457.9 657.5 1445.0C664.2 1432.1 669.7 1418.9 675.0 1405.0C680.6 1390.6 685.5 1375.5 690.0 1360.0C694.7 1343.9 698.9 1326.5 702.5 1310.0C706.0 1294.0 708.3 1279.4 711.5 1262.5C715.2 1243.1 720.0 1221.8 723.5 1200.0C727.4 1176.2 729.9 1150.0 733.5 1125.0C737.1 1100.0 741.2 1075.0 745.0 1050.0C748.7 1025.0 753.0 999.4 756.0 975.0C758.9 951.8 760.6 929.4 763.0 907.0C765.3 885.2 767.6 863.8 770.0 842.5C772.4 821.5 775.1 799.7 777.5 780.0C779.7 762.4 781.8 747.6 783.8 730.0C786.0 710.3 788.0 687.2 790.0 667.5C791.8 649.9 793.3 633.5 795.0 617.5C796.6 602.8 798.3 588.7 800.0 575.0C801.6 562.1 802.8 548.3 805.0 537.5C806.7 529.0 808.3 520.0 811.2 515.0C813.1 511.8 815.7 508.5 818.0 508.5C820.3 508.5 823.2 511.7 825.0 515.0C828.1 520.7 828.4 532.6 830.0 542.5C831.8 554.0 833.4 566.9 835.0 580.0C836.7 594.3 838.4 609.6 840.0 625.0C841.7 641.2 843.4 657.9 845.0 675.0C846.7 692.9 848.3 712.1 850.0 730.0C851.6 747.1 853.4 762.4 855.0 780.0C856.8 799.7 858.5 821.7 860.0 842.5C861.5 863.3 862.4 883.6 864.0 905.0C865.7 927.7 867.8 951.3 870.0 975.0C872.3 999.6 875.0 1025.0 877.5 1050.0C880.0 1075.0 883.1 1100.0 885.0 1125.0C886.9 1150.0 887.7 1177.5 889.0 1200.0C890.0 1218.4 890.4 1233.4 892.0 1250.0C893.6 1266.7 896.4 1283.3 898.8 1300.0C901.1 1316.7 903.3 1334.6 906.2 1350.0C908.8 1363.5 911.5 1376.4 915.0 1387.5C917.9 1396.8 920.6 1406.2 925.0 1412.5C928.5 1417.5 932.8 1422.2 937.5 1423.8C942.0 1425.3 947.5 1424.1 952.5 1422.5C958.3 1420.7 964.1 1416.4 970.0 1412.5C976.6 1408.2 983.2 1402.1 990.0 1397.5C996.6 1393.0 1003.2 1388.8 1010.0 1385.0C1016.6 1381.3 1023.9 1378.5 1030.0 1375.0C1035.5 1371.8 1040.8 1369.2 1045.0 1365.0C1049.2 1360.8 1052.2 1355.7 1055.0 1350.0C1058.2 1343.5 1060.0 1335.8 1062.5 1328.0C1065.3 1319.3 1067.9 1310.0 1071.0 1300.0C1074.5 1288.4 1078.8 1275.4 1082.5 1262.5C1086.5 1248.8 1089.9 1236.0 1094.0 1220.0C1099.2 1199.6 1106.4 1172.8 1111.0 1150.0C1115.3 1128.7 1118.5 1108.4 1121.2 1087.5C1124.0 1066.7 1125.4 1045.8 1127.5 1025.0C1129.6 1004.2 1132.0 982.7 1133.8 962.5C1135.4 943.5 1136.3 925.2 1138.0 907.0C1139.6 889.4 1141.8 873.1 1143.8 855.0C1145.8 835.1 1148.1 813.3 1150.0 792.5C1151.9 771.7 1153.3 750.8 1155.0 730.0C1156.7 709.2 1158.3 688.3 1160.0 667.5C1161.7 646.7 1163.2 624.7 1165.0 605.0C1166.6 587.4 1168.5 573.1 1170.0 555.0C1171.8 533.6 1173.2 508.7 1175.0 485.0C1176.9 460.4 1179.2 435.0 1181.2 410.0C1183.3 385.0 1185.2 360.0 1187.5 335.0C1189.8 310.0 1192.4 283.8 1195.0 260.0C1197.4 238.2 1199.7 216.3 1202.5 197.5C1204.8 181.9 1207.4 168.7 1210.0 155.0C1212.4 142.1 1214.2 128.6 1217.5 117.5C1220.3 108.2 1223.9 92.9 1227.5 92.5C1230.2 92.2 1234.1 99.6 1236.2 105.0C1239.4 112.6 1239.7 123.7 1241.2 135.0C1243.2 149.5 1244.7 167.4 1246.2 185.0C1248.0 204.7 1249.8 226.7 1251.2 247.5C1252.7 268.3 1253.8 289.2 1255.0 310.0C1256.2 330.8 1257.5 351.7 1258.8 372.5C1260.0 393.3 1261.4 415.3 1262.5 435.0C1263.5 452.6 1264.1 466.9 1265.0 485.0C1266.1 506.4 1267.5 531.3 1268.8 555.0C1270.0 579.6 1271.2 605.0 1272.5 630.0C1273.8 655.0 1275.2 680.0 1276.2 705.0C1277.3 730.0 1277.6 756.1 1278.8 780.0C1279.8 801.8 1281.5 821.7 1282.5 842.5C1283.5 863.3 1283.4 884.6 1284.5 905.0C1285.5 924.6 1286.9 943.0 1288.8 962.5C1290.7 982.9 1293.7 1003.2 1296.2 1025.0C1299.1 1048.9 1302.6 1077.5 1305.0 1100.0C1307.0 1118.3 1308.2 1132.4 1310.0 1150.0C1312.0 1169.7 1314.0 1192.8 1316.2 1212.5C1318.3 1230.1 1320.6 1245.2 1322.8 1262.5C1325.2 1281.0 1327.5 1301.1 1330.0 1320.0C1332.4 1338.5 1334.7 1357.1 1337.6 1375.0C1340.4 1392.1 1343.1 1409.6 1347.0 1425.0C1350.4 1438.5 1354.5 1450.8 1359.0 1462.5C1363.1 1473.2 1367.1 1483.5 1372.5 1492.5C1377.5 1500.9 1383.6 1508.2 1390.0 1515.0C1396.2 1521.5 1402.9 1528.5 1410.0 1532.5C1416.3 1536.0 1423.5 1538.0 1430.0 1538.8C1436.0 1539.4 1441.5 1538.6 1447.5 1537.5C1454.0 1536.3 1460.5 1533.6 1467.5 1531.2C1475.4 1528.6 1484.3 1524.6 1492.5 1522.5C1500.1 1520.5 1507.3 1519.6 1515.0 1518.8C1523.1 1517.9 1532.1 1517.5 1540.0 1517.5C1547.0 1517.5 1553.0 1518.1 1560.0 1518.5C1567.9 1518.9 1576.7 1519.6 1585.0 1519.8C1593.3 1519.9 1600.8 1519.8 1610.0 1519.5C1621.2 1519.2 1635.0 1518.4 1647.5 1517.8C1660.0 1517.1 1672.5 1515.9 1685.0 1515.5C1697.5 1515.1 1710.0 1515.6 1722.5 1515.5C1735.0 1515.4 1747.5 1515.3 1760.0 1515.0C1772.5 1514.7 1785.0 1514.1 1797.5 1513.5C1810.0 1512.9 1822.3 1512.6 1835.0 1511.5C1848.1 1510.4 1863.6 1508.2 1875.0 1507.0C1883.4 1506.1 1890.6 1505.4 1897.0 1505.0C1901.9 1504.7 1905.1 1504.4 1910.0 1504.5C1916.6 1504.7 1925.2 1505.4 1933.0 1506.5C1941.2 1507.7 1949.7 1509.7 1958.0 1511.5C1966.4 1513.3 1974.7 1515.4 1983.0 1517.5C1991.3 1519.6 1999.7 1521.9 2008.0 1524.0C2016.3 1526.1 2024.6 1528.2 2033.0 1530.0C2041.3 1531.8 2049.7 1533.4 2058.0 1535.0C2066.3 1536.6 2074.7 1538.2 2083.0 1539.5C2091.1 1540.8 2098.6 1541.8 2107.0 1543.0C2116.4 1544.4 2127.0 1546.0 2137.0 1547.5"/>
</g>
<g id="axes" filter="url(#soft2)">
<path class="ax" d="M330.2 17.5V1637.5"/>
<path class="ax" d="M327.2 1620.0H2299.5"/>
<path class="ax" d="M471.5 1620.0V1651.5M611.9 1620.0V1637.5M752.3 1620.0V1651.5M892.7 1620.0V1637.5M1033.1 1620.0V1651.5M1173.5 1620.0V1637.5M1313.9 1620.0V1651.5M1454.3 1620.0V1637.5M1594.7 1620.0V1651.5M1735.1 1620.0V1637.5M1875.5 1620.0V1651.5M2015.9 1620.0V1637.5M2156.3 1620.0V1651.5M2296.7 1620.0V1637.5"/>
<path class="ax" d="M297.0 1548.4H330.2M313.0 1402.9H330.2M297.0 1257.4H330.2M313.0 1111.9H330.2M297.0 966.4H330.2M313.0 820.9H330.2M297.0 675.4H330.2M313.0 529.9H330.2M297.0 384.4H330.2M313.0 238.9H330.2M297.0 93.4H330.2"/>
</g>
<g id="labels" filter="url(#soft)">
<g id="xlabels" class="tk" text-anchor="middle">
<text x="471.5" y="1718">200</text>
<text x="752.3" y="1718">300</text>
<text x="1033.1" y="1718">400</text>
<text x="1313.9" y="1718">500</text>
<text x="1594.7" y="1718">600</text>
<text x="1875.5" y="1718">700</text>
<text x="2156.3" y="1718">800</text>
</g>
<g id="ylabels" class="tk" text-anchor="end">
<text x="279" y="1563.2">0.0</text>
<text x="279" y="1272.2">0.2</text>
<text x="279" y="981.2">0.4</text>
<text x="279" y="690.2">0.6</text>
<text x="279" y="399.2">0.8</text>
<text x="279" y="108.2">1.0</text>
</g>
<text class="ti" x="1039.4" y="1850.5"><tspan letter-spacing="1">Temperature,</tspan> <tspan dy="-40" font-size="45">o</tspan><tspan dy="40">C</tspan></text>
<text class="ti" transform="translate(80.7 1503) rotate(-90)">Derivative Weight Change (x100%/<tspan dy="-40" font-size="45">o</tspan><tspan dy="40">C</tspan><tspan dx="3">)</tspan></text>
<g id="legend" class="lg">
<text x="1312.5" y="78">P(NVP-stat-CEVE) 20/80</text>
<rect x="1308.0" y="138.7" width="146.0" height="12" rx="3" ry="3" fill="#ff0000"/>
<text x="1463.0" y="164.0">3 <tspan dy="-31" font-size="36.5">o</tspan><tspan dy="31">C/min</tspan></text>
<rect x="1729.0" y="138.7" width="145.0" height="12" rx="3" ry="3" fill="#00ff00"/>
<text x="1883.0" y="164.0">5 <tspan dy="-31" font-size="36.5">o</tspan><tspan dy="31">C/min</tspan></text>
<rect x="1308.0" y="225.2" width="146.0" height="12" rx="3" ry="3" fill="#0000ff"/>
<text x="1463.0" y="250.3">7 <tspan dy="-31" font-size="36.5">o</tspan><tspan dy="31">C/min</tspan></text>
<rect x="1729.0" y="225.2" width="145.0" height="12" rx="3" ry="3" fill="#ff00ff"/>
<text x="1883.0" y="250.3">10 <tspan dy="-31" font-size="36.5">o</tspan><tspan dy="31">C/min</tspan></text>
<rect x="1308.0" y="311.5" width="146.0" height="12" rx="3" ry="3" fill="#800000"/>
<text x="1463.0" y="336.6">15 <tspan dy="-31" font-size="36.5">o</tspan><tspan dy="31">C/min</tspan></text>
<rect x="1729.0" y="311.5" width="145.0" height="12" rx="3" ry="3" fill="#ff8000"/>
<text x="1883.0" y="336.6">20 <tspan dy="-31" font-size="36.5">o</tspan><tspan dy="31">C/min</tspan></text>
</g>
</g>
</svg>
</body></html>
